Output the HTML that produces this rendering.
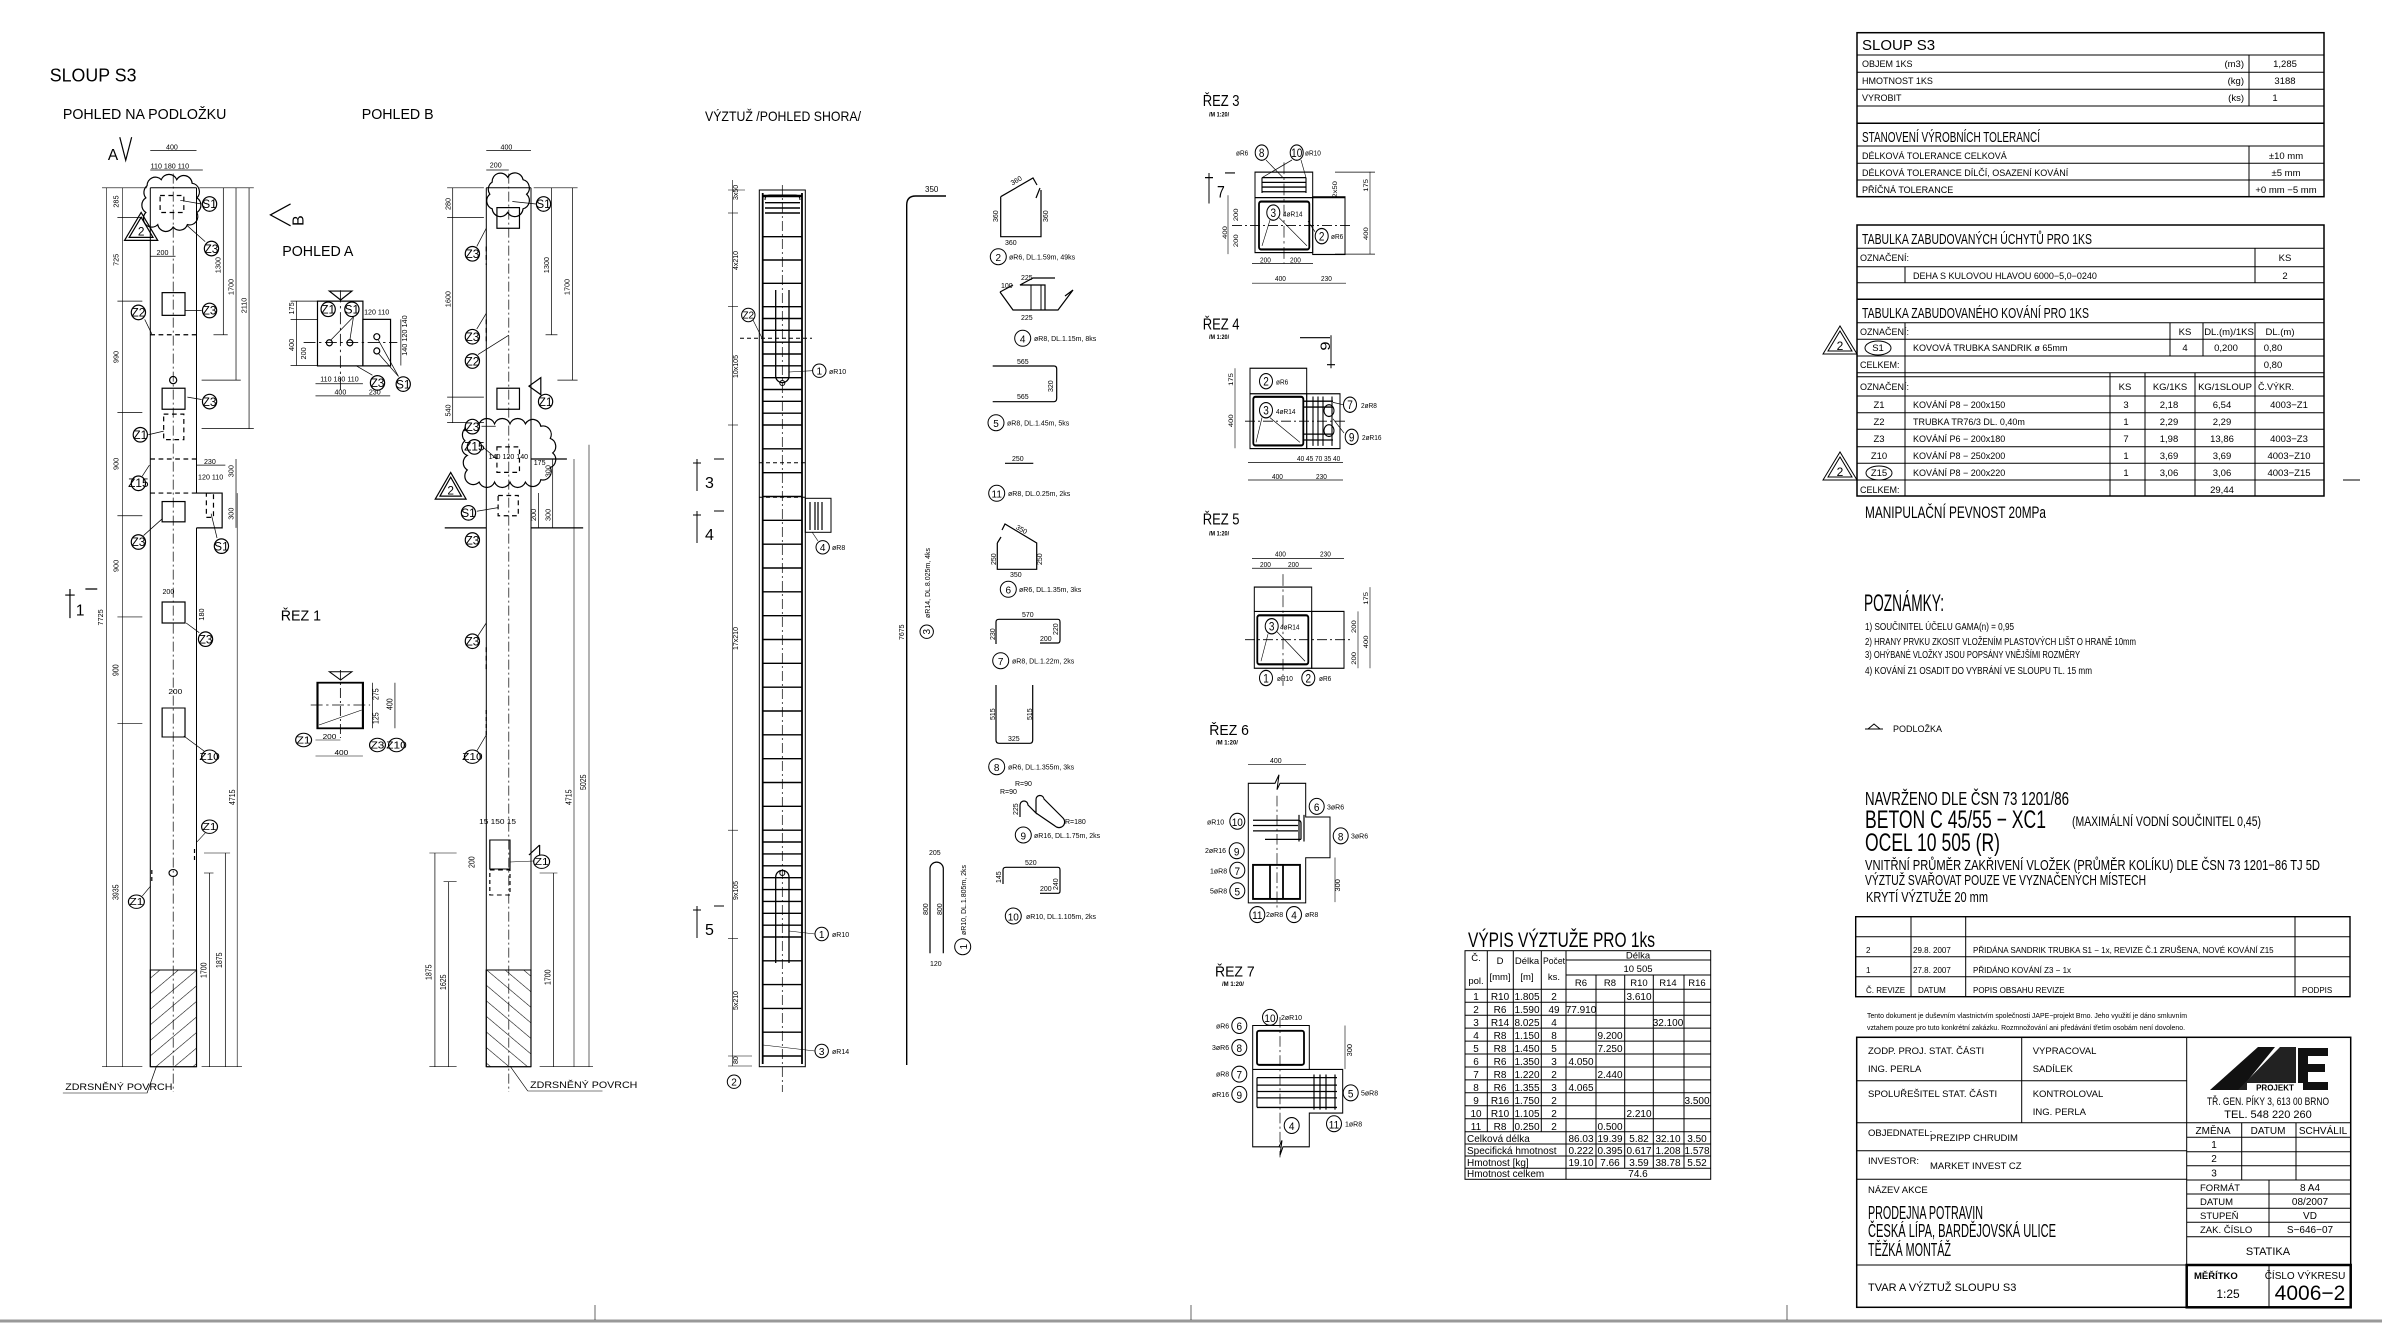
<!DOCTYPE html>
<html><head><meta charset="utf-8">
<style>
html,body{margin:0;padding:0;background:#fff;}
svg{display:block;}
text{font-family:"Liberation Sans Narrow","Liberation Sans","DejaVu Sans Condensed",sans-serif;fill:#000;}
.l{stroke:#000;stroke-width:1;fill:none;}
.t{stroke:#000;stroke-width:1.8;fill:none;}
.th{stroke:#000;stroke-width:0.6;fill:none;}
.d{stroke:#000;stroke-width:1;fill:none;stroke-dasharray:4 3;}
.c{stroke:#000;stroke-width:0.7;fill:none;stroke-dasharray:10 3 2 3;}
.tag circle{fill:#fff;stroke:#000;stroke-width:1;}
.tag text{font-size:10px;text-anchor:middle;}
.s7{font-size:7px;}
.s8{font-size:8px;}
.s9{font-size:9px;}
.s10{font-size:10px;}
.s11{font-size:11px;}
</style></head>
<body>
<svg width="2382" height="1324" viewBox="0 0 2382 1324" xmlns="http://www.w3.org/2000/svg">
<defs>
<pattern id="h1" patternUnits="userSpaceOnUse" width="11" height="11" patternTransform="rotate(45)"><line x1="0" y1="0" x2="0" y2="11" stroke="#000" stroke-width="1"/></pattern>
<pattern id="h2" patternUnits="userSpaceOnUse" width="11" height="11" patternTransform="rotate(-45)"><line x1="0" y1="0" x2="0" y2="11" stroke="#000" stroke-width="1"/></pattern>
</defs>

<line class="l" x1="150.3" y1="187.8" x2="150.3" y2="1066.7"/>
<line class="l" x1="196.5" y1="187.8" x2="196.5" y2="493.1"/>
<line class="l" x1="196.5" y1="527.9" x2="196.5" y2="1066.7"/>
<line class="l" x1="150.3" y1="187.8" x2="196.5" y2="187.8"/>
<line class="c" x1="173.2" y1="173.6" x2="173.2" y2="1092"/>
<line class="th" x1="106.7" y1="187.8" x2="106.7" y2="1066.7"/>
<line class="th" x1="122.5" y1="187.8" x2="122.5" y2="1066.7"/>
<line class="th" x1="237.2" y1="493.1" x2="237.2" y2="1066.7"/>
<line class="l" x1="486.3" y1="187.8" x2="486.3" y2="1066.7"/>
<line class="l" x1="531" y1="187.8" x2="531" y2="1066.7"/>
<line class="l" x1="486.3" y1="187.8" x2="531" y2="187.8"/>
<line class="c" x1="508.8" y1="173.6" x2="508.8" y2="1092"/>
<line class="th" x1="574" y1="459" x2="574" y2="1066.7"/>
<line class="th" x1="589" y1="444.7" x2="589" y2="1066.7"/>

<g transform="matrix(1.186,0,0,1.2146,0,-8.584)">
<text x="42" y="74" font-size="15">SLOUP  S3</text>
<text x="53" y="105" font-size="12">POHLED  NA  PODLOŽKU</text>
<text x="305" y="105" font-size="12">POHLED  B</text>
<text x="91" y="139" font-size="13">A</text>
<path class="l" d="M101,120 L106,139 L111,120"/>
<path class="l" d="M165.7,413 H187.3 V441.7 H165.7"/>
<line class="d" x1="126.7" y1="385" x2="165.7" y2="385"/>
<line class="d" x1="126.7" y1="413" x2="165.7" y2="413"/>
<line class="d" x1="126.7" y1="282.7" x2="165.7" y2="282.7"/>
<rect class="l" x="136.7" y="248" width="19.3" height="18.7"/>
<rect class="l" x="136.7" y="326.7" width="19.3" height="17.3"/>
<rect class="d" x="138" y="348" width="17" height="21"/>
<rect class="l" x="136.7" y="420" width="19.3" height="16.7"/>
<rect class="l" x="136.7" y="502.7" width="19.3" height="17.3"/>
<rect class="d" x="174" y="413" width="6" height="20"/>
<circle class="l" cx="146" cy="320" r="3"/>
<path class="l" d="M124,160 a7,7 0 0 1 12,-5 a7,7 0 0 1 13,0 a7,7 0 0 1 13,3 a7,7 0 0 1 4,12 a7,7 0 0 1 0,12 a7,7 0 0 1 -8,10 a7,7 0 0 1 -12,2 a7,7 0 0 1 -13,-2 a7,7 0 0 1 -10,-10 a7,7 0 0 1 0,-12 a7,7 0 0 1 1,-10 z"/>
<rect class="d" x="135" y="168" width="20" height="14"/>
<polygon class="l" points="105,205 119,182 133,205"/><polygon class="l" points="109,202.5 119,186 129,202.5"/>
<text x="119" y="201" font-size="10" text-anchor="middle">2</text>
<g class="th"><line x1="86" y1="161.7" x2="124" y2="161.7"/><line x1="99" y1="186" x2="120" y2="186"/><line x1="99" y1="255" x2="120" y2="255"/><line x1="99" y1="346.7" x2="120" y2="346.7"/><line x1="99" y1="431.7" x2="120" y2="431.7"/><line x1="99" y1="515" x2="120" y2="515"/></g>
<g font-size="6">
<text transform="rotate(-90 100 178)" x="100" y="178">285</text>
<text transform="rotate(-90 100 226)" x="100" y="226">725</text>
<text transform="rotate(-90 100 306)" x="100" y="306">990</text>
<text transform="rotate(-90 100 394)" x="100" y="394">900</text>
<text transform="rotate(-90 100 478)" x="100" y="478">900</text>
<text transform="rotate(-90 87 522)" x="87" y="522">7725</text>
</g>
<line class="th" x1="188.3" y1="161.7" x2="188.3" y2="282.7"/>
<line class="th" x1="199" y1="161.7" x2="199" y2="320"/>
<line class="th" x1="210" y1="161.7" x2="210" y2="360"/>
<g class="th"><line x1="168" y1="161.7" x2="214" y2="161.7"/><line x1="180" y1="282.7" x2="192" y2="282.7"/><line x1="170" y1="320" x2="203" y2="320"/><line x1="170" y1="360" x2="214" y2="360"/></g>
<g font-size="6">
<text transform="rotate(-90 186 232)" x="186" y="232">1300</text>
<text transform="rotate(-90 197 250)" x="197" y="250">1700</text>
<text transform="rotate(-90 208 265)" x="208" y="265">2110</text>
<text transform="rotate(-90 197 400)" x="197" y="400">300</text>
<text transform="rotate(-90 197 435)" x="197" y="435">300</text>
</g>
<line class="th" x1="199" y1="385" x2="199" y2="441.7"/>
<line class="th" x1="126.7" y1="131" x2="165.7" y2="131"/><text x="140" y="130" font-size="6">400</text>
<line class="th" x1="126.7" y1="147" x2="171" y2="147"/><text x="127" y="146" font-size="6">110 180 110</text>
<line class="th" x1="126.7" y1="218" x2="148" y2="218"/><text x="132" y="217" font-size="6">200</text>
<line class="th" x1="165.7" y1="390" x2="190" y2="390"/><text x="172" y="389" font-size="6">230</text>
<text x="167" y="402" font-size="6">120 110</text>
<text x="137" y="496" font-size="6">200</text><text x="168" y="514" font-size="6" transform="rotate(-90 172 514)">180</text>
<g class="tag">
<circle cx="176.7" cy="175" r="6"/><text x="176.7" y="178.5" font-size="9">S1</text>
<circle cx="178.3" cy="211.7" r="6"/><text x="178.3" y="215.2" font-size="9">Z3</text>
<circle cx="116.7" cy="264.3" r="6"/><text x="116.7" y="267.8" font-size="9">Z2</text>
<circle cx="176.7" cy="262.7" r="6"/><text x="176.7" y="266.2" font-size="9">Z3</text>
<circle cx="176.7" cy="337.7" r="6"/><text x="176.7" y="341.2" font-size="9">Z3</text>
<circle cx="118.3" cy="365" r="6"/><text x="118.3" y="368.5" font-size="9">Z1</text>
<circle cx="116.7" cy="405" r="6"/><text x="116.7" y="408" font-size="7.5">Z15</text>
<circle cx="116.7" cy="453.3" r="6"/><text x="116.7" y="456.8" font-size="9">Z3</text>
<circle cx="186.7" cy="456.7" r="6"/><text x="186.7" y="460.2" font-size="9">S1</text>
<circle cx="173.3" cy="533.3" r="6"/><text x="173.3" y="536.8" font-size="9">Z3</text>
</g>
<g class="th"><line x1="170" y1="175" x2="152" y2="172"/><line x1="173" y1="206" x2="158" y2="193"/><line x1="122" y1="270" x2="128" y2="282"/><line x1="170" y1="262.7" x2="156" y2="262.7"/><line x1="170" y1="336" x2="158" y2="334"/><line x1="125" y1="365" x2="138" y2="362"/><line x1="120" y1="399" x2="126" y2="390"/><line x1="121" y1="448" x2="137" y2="434"/><line x1="183" y1="450" x2="178" y2="430"/><line x1="168" y1="528" x2="157" y2="520"/></g>
<path class="l" d="M59,492 v24 M55,497 h8 M72,492 h10"/><text x="64" y="514" font-size="13">1</text>

<rect class="l" x="419" y="178" width="19" height="17"/>
<rect class="l" x="419" y="326.7" width="19" height="17.3"/>
<rect class="d" x="419" y="375" width="19" height="21"/>
<rect class="d" x="420" y="415" width="17" height="16.7"/>
<line class="l" x1="447.7" y1="441.7" x2="491.7" y2="441.7"/>
<line class="l" x1="447.7" y1="385" x2="478" y2="385"/>
<line class="l" x1="410" y1="441.7" x2="375" y2="441.7"/>
<path class="d" d="M410,210 v15 M410,270 v20 M410,540 v20"/>
<path class="l" d="M392,362 a7,7 0 0 1 12,-6 a7,7 0 0 1 13,0 a7,7 0 0 1 13,0 a7,7 0 0 1 13,0 a7,7 0 0 1 13,2 a7,7 0 0 1 8,10 a7,7 0 0 1 2,12 a7,7 0 0 1 -2,12 a7,7 0 0 1 -8,10 a7,7 0 0 1 -13,2 a7,7 0 0 1 -13,0 a7,7 0 0 1 -13,0 a7,7 0 0 1 -13,0 a7,7 0 0 1 -10,-10 a7,7 0 0 1 0,-12 a7,7 0 0 1 -2,-12 a7,7 0 0 1 0,-10 z"/>
<path class="l" d="M415,157 a7,7 0 0 1 13,-4 a7,7 0 0 1 13,2 a7,7 0 0 1 3,12 a7,7 0 0 1 -3,12 a7,7 0 0 1 -13,3 a7,7 0 0 1 -13,-3 a7,7 0 0 1 -2,-12 a7,7 0 0 1 2,-10 z"/>
<polygon class="l" points="367,418 380,396 393,418"/><polygon class="l" points="371,415.5 380,400 389,415.5"/>
<text x="380" y="414" font-size="10" text-anchor="middle">2</text>
<path class="l" d="M456,318 L446,325 L456,332 z"/>
<g class="th"><line x1="381.7" y1="161.7" x2="381.7" y2="355"/><line x1="377" y1="161.7" x2="408" y2="161.7"/><line x1="377" y1="186" x2="408" y2="186"/><line x1="377" y1="334" x2="408" y2="334"/><line x1="377" y1="355" x2="408" y2="355"/>
<line x1="465" y1="161.7" x2="465" y2="282.7"/><line x1="482.7" y1="161.7" x2="482.7" y2="320"/><line x1="450" y1="161.7" x2="487" y2="161.7"/><line x1="460" y1="282.7" x2="470" y2="282.7"/><line x1="470" y1="320" x2="487" y2="320"/>
<line x1="410" y1="131" x2="447.7" y2="131"/><line x1="410" y1="147" x2="429" y2="147"/>
<line x1="466" y1="385" x2="466" y2="441.7"/><line x1="454" y1="413" x2="454" y2="441.7"/>
</g>
<g font-size="6">
<text x="422" y="130">400</text><text x="413" y="145">200</text>
<text transform="rotate(-90 380 180)" x="380" y="180">280</text>
<text transform="rotate(-90 380 260)" x="380" y="260">1600</text>
<text transform="rotate(-90 380 350)" x="380" y="350">540</text>
<text transform="rotate(-90 463 232)" x="463" y="232">1300</text>
<text transform="rotate(-90 480 250)" x="480" y="250">1700</text>
<text transform="rotate(-90 464 400)" x="464" y="400">300</text>
<text transform="rotate(-90 464 436)" x="464" y="436">300</text>
<text transform="rotate(-90 452 436)" x="452" y="436">200</text>
<text x="412" y="385">140 120 140</text><text x="450" y="390">175</text>
</g>
<g class="tag">
<circle cx="458.3" cy="175" r="6"/><text x="458.3" y="178.5" font-size="9">S1</text>
<circle cx="398.3" cy="216" r="6"/><text x="398.3" y="219.5" font-size="9">Z3</text>
<circle cx="398.3" cy="284.3" r="6"/><text x="398.3" y="287.8" font-size="9">Z3</text>
<circle cx="398.3" cy="304.3" r="6"/><text x="398.3" y="307.8" font-size="9">Z2</text>
<circle cx="460" cy="337.7" r="6"/><text x="460" y="341.2" font-size="9">Z1</text>
<circle cx="398.3" cy="358.3" r="6"/><text x="398.3" y="361.8" font-size="9">Z3</text>
<circle cx="400" cy="375" r="6"/><text x="400" y="378" font-size="7.5">Z15</text>
<circle cx="395" cy="429.3" r="6"/><text x="395" y="432.8" font-size="9">S1</text>
<circle cx="398.3" cy="451.7" r="6"/><text x="398.3" y="455.2" font-size="9">Z3</text>
<circle cx="398.3" cy="535" r="6"/><text x="398.3" y="538.5" font-size="9">Z3</text>
</g>
<g class="th"><line x1="452" y1="175" x2="432" y2="173"/><line x1="402" y1="210" x2="410" y2="195"/><line x1="402" y1="278" x2="410" y2="265"/><line x1="403" y1="299" x2="429" y2="283"/><line x1="406" y1="358" x2="418" y2="358"/><line x1="407" y1="375" x2="419" y2="385"/><line x1="402" y1="428" x2="420" y2="425"/><line x1="402" y1="532" x2="410" y2="520"/></g>

<text x="232" y="201" font-size="13" transform="rotate(-90 240 185)">B</text>
<path class="l" d="M245,175 L228,184 L245,193"/>
<text x="238" y="218" font-size="12">POHLED  A</text>
<rect class="l" x="267.7" y="255" width="38.3" height="53.3"/>
<rect class="l" x="306" y="270" width="23.3" height="38.3"/>
<path class="l" d="M277.7,246.7 H296.7 L287.2,254 z"/>
<line class="c" x1="287" y1="246" x2="287" y2="330"/><line class="c" x1="256" y1="289" x2="335" y2="289"/>
<circle class="l" cx="277.7" cy="289.3" r="2.5"/><circle class="l" cx="295" cy="289.3" r="2.5"/><circle class="l" cx="317.7" cy="284.3" r="2.5"/><circle class="l" cx="317.7" cy="296" r="2.5"/>
<g class="th"><line x1="266" y1="323" x2="306" y2="323"/><line x1="266" y1="333" x2="329" y2="333"/><line x1="250" y1="255" x2="250" y2="308"/><line x1="245" y1="255" x2="268" y2="255"/><line x1="245" y1="270" x2="268" y2="270"/><line x1="245" y1="308" x2="268" y2="308"/><line x1="338" y1="270" x2="338" y2="308"/></g>
<g font-size="6"><text x="270" y="321">110 180 110</text><text x="282" y="332">400</text><text x="311" y="332">230</text><text x="307" y="266">120 110</text>
<text transform="rotate(-90 248 266)" x="248" y="266">175</text><text transform="rotate(-90 248 296)" x="248" y="296">400</text><text transform="rotate(-90 258 303)" x="258" y="303">200</text><text transform="rotate(-90 343 300)" x="343" y="300">140 120 140</text></g>
<g class="tag">
<circle cx="276.7" cy="261.7" r="6"/><text x="276.7" y="265.2" font-size="9">Z1</text>
<circle cx="296.7" cy="261.7" r="6"/><text x="296.7" y="265.2" font-size="9">S1</text>
<circle cx="318.3" cy="322.3" r="6"/><text x="318.3" y="325.8" font-size="9">Z3</text>
<circle cx="340" cy="323.3" r="6"/><text x="340" y="326.8" font-size="9">S1</text>
</g>
<g class="th"><line x1="298" y1="268" x2="279" y2="287"/><line x1="298" y1="268" x2="295" y2="287"/><line x1="314" y1="316" x2="300" y2="308"/><line x1="336" y1="317" x2="319" y2="287"/><line x1="336" y1="317" x2="319" y2="298"/></g>
<text x="236.7" y="518" font-size="12">ŘEZ  1</text>
</g>

<g transform="matrix(1.186,0,0,1,0,0)">
<line class="l" x1="126.7" y1="1066.7" x2="165.7" y2="1066.7"/>
<rect x="126.7" y="970" width="39" height="96.7" fill="url(#h1)" stroke="#000"/>
<rect class="l" x="136.7" y="708" width="19.3" height="29"/>
<circle class="l" cx="146" cy="873" r="3.5"/>
<path class="d" d="M164,860 v-12 M128,870 v14"/>
<g class="th"><line x1="99" y1="723.3" x2="120" y2="723.3"/><line x1="86" y1="1066.7" x2="120" y2="1066.7"/>
<line x1="176.7" y1="873" x2="176.7" y2="1066.7"/><line x1="190" y1="853" x2="190" y2="1066.7"/>
<line x1="172" y1="873" x2="180" y2="873"/><line x1="172" y1="853" x2="194" y2="853"/><line x1="170" y1="1066.7" x2="204" y2="1066.7"/></g>
<g font-size="7">
<text transform="rotate(-90 100 676)" x="100" y="676">900</text>
<text transform="rotate(-90 100 900)" x="100" y="900">3935</text>
<text transform="rotate(-90 174 978)" x="174" y="978">1700</text>
<text transform="rotate(-90 187 968)" x="187" y="968">1875</text>
<text transform="rotate(-90 198 805)" x="198" y="805">4715</text>
<text x="142" y="694">200</text>
</g>
<text x="55" y="1090" font-size="9">ZDRSNĚNÝ POVRCH</text>
<path class="th" d="M53,1093 H124 L132,1066"/>
<g class="tag">
<circle cx="176.7" cy="756.7" r="6.7"/><text x="176.7" y="760.2" font-size="9">Z10</text>
<circle cx="176.7" cy="826.7" r="6.7"/><text x="176.7" y="830.2">Z1</text>
<circle cx="115" cy="901.7" r="6.7"/><text x="115" y="905.2">Z1</text>
</g>
<g class="th"><line x1="172" y1="751" x2="155" y2="736"/><line x1="173" y1="833" x2="166" y2="842"/><line x1="120" y1="896" x2="127" y2="886"/></g>
<line class="l" x1="410" y1="1066.7" x2="447.7" y2="1066.7"/>
<rect x="410" y="970" width="37.7" height="96.7" fill="url(#h2)" stroke="#000"/>
<rect class="l" x="413" y="840" width="17" height="29"/><rect class="d" x="413" y="870" width="17" height="25"/>
<path class="d" d="M410,710 v25"/>
<path class="l" d="M455,845 L446,855 M455,845 v20"/>
<g class="th">
<line x1="366.7" y1="853" x2="366.7" y2="1066.7"/><line x1="378.3" y1="881.7" x2="378.3" y2="1066.7"/><line x1="362" y1="853" x2="385" y2="853"/><line x1="374" y1="881.7" x2="385" y2="881.7"/><line x1="362" y1="1066.7" x2="385" y2="1066.7"/>
<line x1="466.7" y1="873" x2="466.7" y2="1066.7"/><line x1="455" y1="873" x2="470" y2="873"/><line x1="455" y1="1066.7" x2="500" y2="1066.7"/>
</g>
<g font-size="7">
<text transform="rotate(-90 364 980)" x="364" y="980">1875</text>
<text transform="rotate(-90 376 990)" x="376" y="990">1625</text>
<text transform="rotate(-90 464 985)" x="464" y="985">1700</text>
<text transform="rotate(-90 482 805)" x="482" y="805">4715</text>
<text transform="rotate(-90 494 790)" x="494" y="790">5025</text>
<text x="404" y="824">15  150  15</text>
<text transform="rotate(-90 400 868)" x="400" y="868">200</text>
</g>
<text x="447" y="1088" font-size="9">ZDRSNĚNÝ POVRCH</text>
<path class="th" d="M445,1091 H508 M445,1091 L430,1066"/>
<g class="tag">
<circle cx="398.3" cy="756.7" r="6.7"/><text x="398.3" y="760.2" font-size="9">Z10</text>
<circle cx="456.7" cy="861.7" r="6.7"/><text x="456.7" y="865.2">Z1</text>
</g>
<g class="th"><line x1="402" y1="751" x2="410" y2="735"/><line x1="450" y1="861" x2="430" y2="862"/></g>
<rect class="t" x="267.7" y="682.7" width="38.3" height="45.6"/>
<path class="l" d="M277.7,671.7 H296.7 L287.2,680 z"/>
<line class="c" x1="287" y1="670" x2="287" y2="738"/><line class="c" x1="262" y1="705" x2="312" y2="705"/>
<line class="th" x1="269" y1="725" x2="305" y2="710"/>
<g class="th"><line x1="266" y1="740" x2="287" y2="740"/><line x1="266" y1="756" x2="306" y2="756"/><line x1="314" y1="682.7" x2="314" y2="728.3"/><line x1="333" y1="682.7" x2="333" y2="728.3"/></g>
<g font-size="7"><text x="272" y="739">200</text><text x="282" y="755">400</text>
<text transform="rotate(-90 319 700)" x="319" y="700">275</text><text transform="rotate(-90 319 724)" x="319" y="724">125</text><text transform="rotate(-90 331 710)" x="331" y="710">400</text></g>
<g class="tag">
<circle cx="256" cy="740" r="6.7"/><text x="256" y="743.5">Z1</text>
<circle cx="318.3" cy="745" r="6.7"/><text x="318.3" y="748.5">Z3</text>
<circle cx="334.3" cy="745" r="6.7"/><text x="334.3" y="748.5" font-size="9">Z10</text>
</g>
</g>

<text x="705" y="121" font-size="14" textLength="156" lengthAdjust="spacingAndGlyphs">VÝZTUŽ  /POHLED SHORA/</text>
<rect class="l" x="759.3" y="190" width="46" height="876.7"/>
<line class="t" x1="762.7" y1="193" x2="762.7" y2="1064"/>
<line class="t" x1="802" y1="193" x2="802" y2="1064"/>
<line class="c" x1="782.3" y1="185" x2="782.3" y2="1092"/>
<g class="l" style="stroke-width:1.4">
<line x1="762.7" y1="196" x2="802" y2="196" style="stroke-width:2.5"/>
<line x1="765" y1="202.7" x2="800" y2="202.7"/><line x1="765" y1="208" x2="800" y2="208"/><line x1="765" y1="213" x2="800" y2="213"/>
<line x1="762.7" y1="236.7" x2="802" y2="236.7"/><line x1="762.7" y1="260" x2="802" y2="260"/><line x1="762.7" y1="283.3" x2="802" y2="283.3"/><line x1="762.7" y1="306.7" x2="802" y2="306.7"/>
<line x1="762.7" y1="318.5" x2="802" y2="318.5"/><line x1="762.7" y1="330.3" x2="802" y2="330.3"/><line x1="762.7" y1="342.2" x2="802" y2="342.2"/><line x1="762.7" y1="354" x2="802" y2="354"/><line x1="762.7" y1="365.8" x2="802" y2="365.8"/><line x1="762.7" y1="377.7" x2="802" y2="377.7"/><line x1="762.7" y1="389.5" x2="802" y2="389.5"/><line x1="762.7" y1="401.3" x2="802" y2="401.3"/><line x1="762.7" y1="413.2" x2="802" y2="413.2"/><line x1="762.7" y1="425" x2="802" y2="425"/>
<line x1="762.7" y1="448.8" x2="802" y2="448.8"/><line x1="762.7" y1="472.7" x2="802" y2="472.7"/><line x1="762.7" y1="496.5" x2="802" y2="496.5"/><line x1="762.7" y1="520.3" x2="802" y2="520.3"/><line x1="762.7" y1="544.2" x2="802" y2="544.2"/><line x1="762.7" y1="568" x2="802" y2="568"/><line x1="762.7" y1="591.8" x2="802" y2="591.8"/><line x1="762.7" y1="615.7" x2="802" y2="615.7"/><line x1="762.7" y1="639.5" x2="802" y2="639.5"/><line x1="762.7" y1="663.3" x2="802" y2="663.3"/><line x1="762.7" y1="687.2" x2="802" y2="687.2"/><line x1="762.7" y1="711" x2="802" y2="711"/><line x1="762.7" y1="734.8" x2="802" y2="734.8"/><line x1="762.7" y1="758.7" x2="802" y2="758.7"/><line x1="762.7" y1="782.5" x2="802" y2="782.5"/><line x1="762.7" y1="806.3" x2="802" y2="806.3"/><line x1="762.7" y1="830.2" x2="802" y2="830.2"/>
<line x1="762.7" y1="842" x2="802" y2="842"/><line x1="762.7" y1="853.9" x2="802" y2="853.9"/><line x1="762.7" y1="865.8" x2="802" y2="865.8"/><line x1="762.7" y1="877.7" x2="802" y2="877.7"/><line x1="762.7" y1="889.6" x2="802" y2="889.6"/><line x1="762.7" y1="901.4" x2="802" y2="901.4"/><line x1="762.7" y1="913.3" x2="802" y2="913.3"/><line x1="762.7" y1="925.2" x2="802" y2="925.2"/><line x1="762.7" y1="937" x2="802" y2="937"/>
<line x1="762.7" y1="960.8" x2="802" y2="960.8"/><line x1="762.7" y1="984.6" x2="802" y2="984.6"/><line x1="762.7" y1="1008.4" x2="802" y2="1008.4"/><line x1="762.7" y1="1032.2" x2="802" y2="1032.2"/><line x1="762.7" y1="1056" x2="802" y2="1056"/>
</g>
<path class="t" d="M765,200 q0,-5 5,-5 h25 q5,0 5,5" style="stroke-width:1"/>
<path class="t" d="M775.7,290 V376 a6.6,6.6 0 0 0 13.3,0 V290" style="stroke-width:1.3"/>
<path class="t" d="M775.7,963 V877 a6.6,6.6 0 0 1 13.3,0 V963" style="stroke-width:1.3"/>
<circle class="l" cx="782.3" cy="383" r="2.5"/><circle class="l" cx="782.3" cy="873" r="2.5"/>
<line class="d" x1="740" y1="338.3" x2="812" y2="338.3"/>
<line class="d" x1="759" y1="462.7" x2="805" y2="462.7"/>
<line class="d" x1="759" y1="497.3" x2="805" y2="497.3"/>
<rect class="l" x="805.3" y="498.3" width="25.7" height="34"/>
<path class="t" d="M810,502 v28 M815,502 v28 M818,502 v28 M822,502 v28" style="stroke-width:1.2"/>
<line class="th" x1="732.7" y1="180" x2="732.7" y2="1066"/>
<g class="th"><line x1="728" y1="190" x2="745" y2="190"/><line x1="728" y1="213" x2="738" y2="213"/><line x1="728" y1="306.7" x2="738" y2="306.7"/><line x1="728" y1="425" x2="738" y2="425"/><line x1="728" y1="830.2" x2="738" y2="830.2"/><line x1="728" y1="938.3" x2="738" y2="938.3"/><line x1="728" y1="1056" x2="752" y2="1056"/><line x1="728" y1="1066" x2="752" y2="1066"/></g>
<g class="s7"><text transform="rotate(-90 738 200)" x="738" y="200">3x50</text><text transform="rotate(-90 738 270)" x="738" y="270">4x210</text><text transform="rotate(-90 738 378)" x="738" y="378">10x105</text><text transform="rotate(-90 738 650)" x="738" y="650">17x210</text><text transform="rotate(-90 738 900)" x="738" y="900">9x105</text><text transform="rotate(-90 738 1010)" x="738" y="1010">5x210</text><text transform="rotate(-90 738 1064)" x="738" y="1064">80</text></g>
<g class="tag" style="font-size:12px">
<circle cx="748.3" cy="315" r="6.7"/><text x="748.3" y="318.5">Z2</text>
<circle cx="819.3" cy="370.7" r="6.7"/><text x="819.3" y="374.5">1</text>
<circle cx="822.7" cy="547.3" r="6.7"/><text x="822.7" y="551">4</text>
<circle cx="821.7" cy="934" r="6.7"/><text x="821.7" y="938">1</text>
<circle cx="821.7" cy="1051" r="6.7"/><text x="821.7" y="1055">3</text>
<circle cx="734" cy="1081.7" r="6.7"/><text x="734" y="1085.5">2</text>
</g>
<g class="th"><line x1="753" y1="320" x2="762" y2="338"/><line x1="812.5" y1="370.7" x2="789" y2="372"/><line x1="818" y1="541" x2="812" y2="532"/><line x1="815" y1="934" x2="789" y2="931"/><line x1="815" y1="1051" x2="763" y2="1045"/></g>
<g class="s7"><text x="829" y="374">øR10</text><text x="832" y="550">øR8</text><text x="832" y="937">øR10</text><text x="832" y="1054">øR14</text></g>
<path class="l" d="M697,459 v32 M693,463 h8 M714,459 h10"/><text x="705" y="488" font-size="16">3</text>
<path class="l" d="M697,511 v32 M693,515 h8 M714,511 h10"/><text x="705" y="540" font-size="16">4</text>
<path class="l" d="M697,906 v32 M693,910 h8 M714,906 h10"/><text x="705" y="935" font-size="16">5</text>

<path class="t" d="M906.7,1065 V205 q0,-9 9,-9 H946" style="stroke-width:1.4"/>
<text x="925" y="192" class="s8">350</text>
<text transform="rotate(-90 904 640)" x="904" y="640" class="s7">7675</text>
<g class="tag" style="font-size:12px"><circle cx="926.7" cy="631.7" r="6.7"/><text transform="rotate(-90 930 631.7)" x="930" y="631.7">3</text></g>
<text transform="rotate(-90 930 618)" x="930" y="618" class="s7">øR14, DL.8.025m, 4ks</text>

<path class="t" d="M1000.7,196.7 V236.7 H1041 V196.7 M1000.7,196.7 L1033,178 L1037,185 M1041,196.7 L1041,190 M1036,198 L1040,188" style="stroke-width:1.2"/>
<g class="s7"><text x="1005" y="245">360</text><text x="1012" y="184" transform="rotate(-30 1015 184)">360</text><text transform="rotate(-90 998 222)" x="998" y="222">360</text><text transform="rotate(-90 1048 222)" x="1048" y="222">360</text></g>
<path class="t" d="M1000,292 L1013,285 M1000,292 L1013,310 H1045 V285 H1020 L1033,278 H1055 M1045,310 H1058 L1073,290 L1065,296" style="stroke-width:1.2"/>
<rect class="l" x="1031" y="285" width="10" height="25"/>
<g class="s7"><text x="1021" y="280">225</text><text x="1021" y="320">225</text><text x="1001" y="288">100</text></g>
<path class="t" d="M992.7,366 H1054 q2.7,0 2.7,3 V398 q0,3.7 -2.7,3.7 H992.7" style="stroke-width:1.2"/>
<g class="s7"><text x="1017" y="364">565</text><text x="1017" y="399">565</text><text transform="rotate(-90 1053 392)" x="1053" y="392">320</text></g>
<line class="t" x1="1005" y1="463.3" x2="1033.3" y2="463.3" style="stroke-width:1.2"/><text x="1012" y="461" class="s7">250</text>
<path class="t" d="M997.3,543 V569.3 H1036.7 V543 L1005,524 L1002,530 M997.3,543 L1001,537" style="stroke-width:1.2"/>
<g class="s7"><text x="1010" y="577">350</text><text transform="rotate(-90 996 565)" x="996" y="565">250</text><text transform="rotate(-90 1042 565)" x="1042" y="565">250</text><text x="1015" y="530" transform="rotate(30 1018 530)">350</text></g>
<path class="t" d="M996,644 V622 q0,-2.7 3,-2.7 H1058 q2,0 2,2.7 V640 q0,3 -2,3 H1040" style="stroke-width:1.2"/>
<g class="s7"><text x="1022" y="617">570</text><text x="1040" y="641">200</text><text transform="rotate(-90 995 640)" x="995" y="640">230</text><text transform="rotate(-90 1058 635)" x="1058" y="635">220</text></g>
<path class="t" d="M996,685 V740 q0,3.3 3,3.3 H1030 q2.7,0 2.7,-3.3 V685" style="stroke-width:1.2"/>
<g class="s7"><text x="1008" y="741">325</text><text transform="rotate(-90 995 720)" x="995" y="720">515</text><text transform="rotate(-90 1032 720)" x="1032" y="720">515</text></g>
<path class="t" d="M1020,817 V805 a4,4 0 0 1 8,0 L1036,813 V800 a4,4 0 0 1 8,-1 L1063,818 a5,5 0 0 1 -8,8 L1036,813" style="stroke-width:1.2"/>
<g class="s7"><text x="1000" y="794">R=90</text><text x="1015" y="786">R=90</text><text x="1065" y="824">R=180</text><text transform="rotate(-90 1018 815)" x="1018" y="815">225</text></g>
<path class="t" d="M1003,884 V870 q0,-2.7 3,-2.7 H1058 q2,0 2,2.7 V891 q0,2.3 -2,2.3 H1040" style="stroke-width:1.2"/>
<g class="s7"><text x="1025" y="865">520</text><text x="1040" y="891">200</text><text transform="rotate(-90 1001 883)" x="1001" y="883">145</text><text transform="rotate(-90 1058 890)" x="1058" y="890">240</text></g>
<path class="t" d="M930,953.3 V868 a6.7,6.7 0 0 1 13.3,0 V953.3" style="stroke-width:1.2"/>
<g class="s7"><text x="929" y="855">205</text><text transform="rotate(-90 928 915)" x="928" y="915">800</text><text transform="rotate(-90 942 915)" x="942" y="915">800</text><text x="930" y="966">120</text></g>
<g class="tag" style="font-size:12px">
<circle cx="998.3" cy="256.7" r="8"/><text x="998.3" y="261" font-size="12">2</text>
<circle cx="1022.7" cy="338.3" r="8"/><text x="1022.7" y="342.5" font-size="12">4</text>
<circle cx="996" cy="422.7" r="8"/><text x="996" y="427" font-size="12">5</text>
<circle cx="996.7" cy="493.3" r="8"/><text x="996.7" y="497.5" font-size="12">11</text>
<circle cx="1008.3" cy="589.3" r="8"/><text x="1008.3" y="593.5" font-size="12">6</text>
<circle cx="1000.7" cy="660.7" r="8"/><text x="1000.7" y="665" font-size="12">7</text>
<circle cx="996.7" cy="766.7" r="8"/><text x="996.7" y="771" font-size="12">8</text>
<circle cx="1023.3" cy="835" r="8"/><text x="1023.3" y="839.3" font-size="12">9</text>
<circle cx="1013.3" cy="916" r="8"/><text x="1013.3" y="920.3" font-size="12">10</text>
<circle cx="962.7" cy="946.7" r="8"/><text transform="rotate(-90 967 946.7)" x="967" y="946.7" font-size="12">1</text>
</g>
<g class="s7">
<text x="1009" y="259.5">øR6,  DL.1.59m,  49ks</text>
<text x="1034" y="341">øR8,  DL.1.15m,  8ks</text>
<text x="1007" y="425.5">øR8,  DL.1.45m,  5ks</text>
<text x="1008" y="496">øR8,  DL.0.25m,  2ks</text>
<text x="1019" y="592">øR6,  DL.1.35m,  3ks</text>
<text x="1012" y="663.5">øR8,  DL.1.22m,  2ks</text>
<text x="1008" y="769.5">øR6,  DL.1.355m,  3ks</text>
<text x="1034" y="838">øR16,  DL.1.75m,  2ks</text>
<text x="1026" y="919">øR10,  DL.1.105m,  2ks</text>
<text transform="rotate(-90 966 935)" x="966" y="935">øR10,  DL.1.805m,  2ks</text>
</g>

<g transform="matrix(1,0,0,1.1765,0,-14.12)">
<g font-size="13"><text x="1202.7" y="102">ŘEZ  3</text><text x="1202.7" y="292">ŘEZ  4</text><text x="1202.7" y="458">ŘEZ  5</text></g>
<g font-size="5.5" font-weight="bold"><text x="1209" y="111">/M 1:20/</text><text x="1209" y="300">/M 1:20/</text><text x="1209" y="467">/M 1:20/</text></g>
<rect class="l" x="1255" y="158.3" width="57.7" height="68.4"/>
<rect class="l" x="1312.7" y="179.3" width="32.3" height="49"/>
<line class="l" x1="1255" y1="180" x2="1345" y2="180"/>
<rect class="t" x="1259" y="183.3" width="50.3" height="40.7" rx="2"/>
<path class="t" d="M1262,163 h44 M1262,167 h44 M1262,171 h44 M1262,175 h44 M1262,163 v13 M1306,163 v13" style="stroke-width:1.1"/>
<line class="c" x1="1284" y1="150" x2="1284" y2="236"/><line class="c" x1="1232" y1="203.7" x2="1350" y2="203.7"/>
<g class="th"><line x1="1252" y1="236" x2="1313" y2="236"/><line x1="1252" y1="252.7" x2="1346" y2="252.7"/><line x1="1228" y1="178" x2="1228" y2="228"/><line x1="1370" y1="158" x2="1370" y2="228"/><line x1="1335" y1="158.3" x2="1375" y2="158.3"/><line x1="1335" y1="228" x2="1375" y2="228"/></g>
<g font-size="6.5"><text x="1260" y="235">200</text><text x="1290" y="235">200</text><text x="1275" y="251">400</text><text x="1321" y="251">230</text><text transform="rotate(-90 1227 215)" x="1227" y="215">400</text><text transform="rotate(-90 1238 200)" x="1238" y="200">200</text><text transform="rotate(-90 1238 222)" x="1238" y="222">200</text><text transform="rotate(-90 1368 216)" x="1368" y="216">400</text><text transform="rotate(-90 1368 175)" x="1368" y="175">175</text><text transform="rotate(-90 1337 180)" x="1337" y="180">2x50</text></g>
<path class="l" d="M1209,159 v26 M1205,163 h8 M1225,159 h10"/><text x="1217" y="180" font-size="14">7</text>
<g class="tag">
<circle cx="1261.7" cy="141.7" r="6.5"/><text x="1261.7" y="145.5" font-size="11">8</text>
<circle cx="1296.7" cy="141.7" r="6.5"/><text x="1296.7" y="145.5" font-size="10">10</text>
<circle cx="1273.3" cy="192.7" r="6.5"/><text x="1273.3" y="196.5" font-size="11">3</text>
<circle cx="1321.7" cy="212.7" r="6.5"/><text x="1321.7" y="216.5" font-size="11">2</text>
</g>
<g class="th"><line x1="1266" y1="148" x2="1283" y2="163"/><line x1="1292" y1="148" x2="1262" y2="163"/><line x1="1301" y1="148" x2="1306" y2="163"/><line x1="1270" y1="199" x2="1262" y2="221"/><line x1="1279" y1="197" x2="1307" y2="221"/><line x1="1315" y1="209" x2="1308" y2="200"/></g>
<g font-size="6.5"><text x="1236" y="144">øR6</text><text x="1305" y="144">øR10</text><text x="1283" y="196">4øR14</text><text x="1331" y="215">øR6</text></g>
<rect class="l" x="1250" y="325" width="56.7" height="68.3"/>
<rect class="l" x="1306.7" y="346.7" width="33.3" height="46.6"/>
<line class="l" x1="1250" y1="346.7" x2="1306.7" y2="346.7"/>
<rect class="t" x="1253.3" y="349.3" width="50" height="41.3" rx="2"/>
<path class="t" d="M1303,353 h30 M1303,358 h30 M1303,381 h30 M1303,386 h30 M1313,349 v42 M1318,349 v42 M1323,349 v42 M1332,349 v42" style="stroke-width:1.1"/>
<circle class="l" cx="1329" cy="361" r="5"/><circle class="l" cx="1329" cy="378" r="5"/>
<line class="c" x1="1245" y1="370" x2="1345" y2="370"/>
<g class="th"><line x1="1248" y1="405" x2="1343" y2="405"/><line x1="1248" y1="420" x2="1343" y2="420"/><line x1="1235" y1="325" x2="1235" y2="393"/></g>
<g font-size="6.5"><text x="1272" y="419">400</text><text x="1316" y="419">230</text><text x="1297" y="404">40  45 70  35  40</text><text transform="rotate(-90 1233 340)" x="1233" y="340">175</text><text transform="rotate(-90 1233 375)" x="1233" y="375">400</text></g>
<path class="l" d="M1331,297 v28 M1327,322 h8 M1300,299 h30"/><text x="1318" y="322" font-size="14" transform="rotate(-90 1318 310)">9</text>
<g class="tag">
<circle cx="1266" cy="336" r="6.5"/><text x="1266" y="339.8" font-size="11">2</text>
<circle cx="1266" cy="360.7" r="6.5"/><text x="1266" y="364.5" font-size="11">3</text>
<circle cx="1350" cy="356" r="6.5"/><text x="1350" y="359.8" font-size="11">7</text>
<circle cx="1351.7" cy="383.3" r="6.5"/><text x="1351.7" y="387.1" font-size="11">9</text>
</g>
<g font-size="6.5"><text x="1276" y="339">øR6</text><text x="1276" y="364">4øR14</text><text x="1361" y="359">2øR8</text><text x="1362" y="386">2øR16</text></g>
<g class="th"><line x1="1262" y1="367" x2="1256" y2="388"/><line x1="1270" y1="367" x2="1300" y2="388"/><line x1="1343" y1="356" x2="1333" y2="354"/><line x1="1344" y1="380" x2="1333" y2="368"/></g>
<rect class="l" x="1254.3" y="511" width="57.4" height="69"/>
<rect class="l" x="1311.7" y="531.7" width="32.3" height="48.3"/>
<line class="l" x1="1254.3" y1="531.7" x2="1311.7" y2="531.7"/>
<rect class="t" x="1257.3" y="535" width="51" height="41.7" rx="2"/>
<line class="c" x1="1283" y1="500" x2="1283" y2="595"/><line class="c" x1="1245" y1="555.7" x2="1350" y2="555.7"/>
<g class="th"><line x1="1252" y1="486.7" x2="1312" y2="486.7"/><line x1="1312" y1="486.7" x2="1344" y2="486.7"/><line x1="1252" y1="495" x2="1312" y2="495"/><line x1="1370" y1="511" x2="1370" y2="580"/><line x1="1358" y1="531.7" x2="1358" y2="580"/></g>
<g font-size="6.5"><text x="1275" y="485">400</text><text x="1320" y="485">230</text><text x="1260" y="494">200</text><text x="1288" y="494">200</text><text transform="rotate(-90 1368 526)" x="1368" y="526">175</text><text transform="rotate(-90 1368 563)" x="1368" y="563">400</text><text transform="rotate(-90 1356 550)" x="1356" y="550">200</text><text transform="rotate(-90 1356 577)" x="1356" y="577">200</text></g>
<g class="tag">
<circle cx="1271.7" cy="544.3" r="6.5"/><text x="1271.7" y="548.1" font-size="11">3</text>
<circle cx="1266" cy="588.3" r="6.5"/><text x="1266" y="592.1" font-size="11">1</text>
<circle cx="1308.3" cy="588.3" r="6.5"/><text x="1308.3" y="592.1" font-size="11">2</text>
</g>
<g font-size="6.5"><text x="1280" y="547">4øR14</text><text x="1277" y="591">øR10</text><text x="1319" y="591">øR6</text></g>
<g class="th"><line x1="1268" y1="551" x2="1261" y2="574"/><line x1="1277" y1="549" x2="1305" y2="574"/></g>
</g>

<g transform="matrix(1,0,0,1.0638,0,-44.66)">
<g font-size="14"><text x="1209.3" y="733">ŘEZ  6</text><text x="1215" y="960">ŘEZ  7</text></g>
<g font-size="6" font-weight="bold"><text x="1216" y="742">/M 1:20/</text><text x="1222" y="969">/M 1:20/</text></g>
<path class="l" d="M1248.3,778.3 H1275 l4,-8 l-2,14 l3,-6 H1305.7 V810 H1330 V848.3 H1305.7 V890.7 H1248.3 z"/>
<line class="c" x1="1277" y1="790" x2="1277" y2="895"/>
<path class="t" d="M1253,813 h45 q3,0 3,3 v15 M1253,818 h45 M1253,823 h45 M1265,831 h36 M1299,808 v25 M1304,808 v25" style="stroke-width:1.2"/>
<rect class="t" x="1253" y="855" width="47" height="32"/>
<line class="t" x1="1270" y1="855" x2="1270" y2="887"/><line class="t" x1="1283" y1="855" x2="1283" y2="887"/>
<line class="th" x1="1248" y1="760.7" x2="1306" y2="760.7"/><text x="1270" y="759" class="s7">400</text>
<line class="th" x1="1335" y1="848" x2="1335" y2="890"/><text transform="rotate(-90 1340 880)" x="1340" y="880" class="s7">300</text>
<g class="tag">
<circle cx="1237.3" cy="814" r="7.5"/><text x="1237.3" y="818.3" font-size="11">10</text>
<circle cx="1316.7" cy="800" r="7.5"/><text x="1316.7" y="804.3" font-size="12">6</text>
<circle cx="1340.7" cy="827.7" r="7.5"/><text x="1340.7" y="832" font-size="12">8</text>
<circle cx="1236.7" cy="841.7" r="7.5"/><text x="1236.7" y="846" font-size="12">9</text>
<circle cx="1237.3" cy="860" r="7.5"/><text x="1237.3" y="864.3" font-size="12">7</text>
<circle cx="1237.3" cy="879.3" r="7.5"/><text x="1237.3" y="883.6" font-size="12">5</text>
<circle cx="1257.3" cy="901.7" r="7.5"/><text x="1257.3" y="906" font-size="11">11</text>
<circle cx="1294" cy="901.7" r="7.5"/><text x="1294" y="906" font-size="12">4</text>
</g>
<g class="s7"><text x="1207" y="817">øR10</text><text x="1327" y="803">3øR6</text><text x="1351" y="830">3øR6</text><text x="1205" y="844">2øR16</text><text x="1210" y="863">1øR8</text><text x="1210" y="882">5øR8</text><text x="1266" y="904">2øR8</text><text x="1305" y="904">øR8</text></g>
<path class="l" d="M1252.7,1006 H1309.3 V1047.3 H1342.7 V1088.3 H1309.3 V1120 H1283 l-3,8 l2,-14 l-3,6 H1252.7 z"/>
<line class="l" x1="1252.7" y1="1047.3" x2="1309.3" y2="1047.3"/>
<line class="c" x1="1280" y1="998" x2="1280" y2="1130"/>
<rect class="t" x="1257" y="1011" width="47" height="32" rx="2"/>
<path class="t" d="M1257,1055 h80 M1257,1062 h80 M1257,1068 h80 M1257,1074 h80 M1257,1083 h80 M1257,1055 v28 M1314,1052 v33 M1320,1052 v33 M1326,1052 v33 M1335,1052 v33" style="stroke-width:1.2"/>
<line class="th" x1="1345" y1="1006" x2="1345" y2="1047"/><text transform="rotate(-90 1352 1035)" x="1352" y="1035" class="s7">300</text>
<g class="tag">
<circle cx="1239.3" cy="1006" r="7.5"/><text x="1239.3" y="1010.3" font-size="12">6</text>
<circle cx="1270" cy="998.3" r="7.5"/><text x="1270" y="1002.6" font-size="11">10</text>
<circle cx="1239.3" cy="1026.7" r="7.5"/><text x="1239.3" y="1031" font-size="12">8</text>
<circle cx="1239.3" cy="1051.7" r="7.5"/><text x="1239.3" y="1056" font-size="12">7</text>
<circle cx="1239.3" cy="1070.7" r="7.5"/><text x="1239.3" y="1075" font-size="12">9</text>
<circle cx="1350.7" cy="1069.3" r="7.5"/><text x="1350.7" y="1073.6" font-size="12">5</text>
<circle cx="1291.7" cy="1100" r="7.5"/><text x="1291.7" y="1104.3" font-size="12">4</text>
<circle cx="1334" cy="1098.3" r="7.5"/><text x="1334" y="1102.6" font-size="11">11</text>
</g>
<g class="s7"><text x="1216" y="1009">øR6</text><text x="1281" y="1001">2øR10</text><text x="1212" y="1029">3øR6</text><text x="1216" y="1054">øR8</text><text x="1212" y="1073">øR16</text><text x="1361" y="1072">5øR8</text><text x="1345" y="1101">1øR8</text></g>
</g>

<text x="1468" y="947" font-size="21" textLength="187" lengthAdjust="spacingAndGlyphs">VÝPIS  VÝZTUŽE  PRO  1ks</text>
<g class="l">
<rect x="1465" y="950.7" width="245.7" height="228.6"/>
<line x1="1487.3" y1="950.7" x2="1487.3" y2="1131.7"/><line x1="1513.3" y1="950.7" x2="1513.3" y2="1131.7"/><line x1="1541.3" y1="950.7" x2="1541.3" y2="1131.7"/><line x1="1566" y1="950.7" x2="1566" y2="1179.3"/>
<line x1="1596" y1="975" x2="1596" y2="1168.3"/><line x1="1624.7" y1="975" x2="1624.7" y2="1168.3"/><line x1="1653.3" y1="975" x2="1653.3" y2="1168.3"/><line x1="1684" y1="975" x2="1684" y2="1168.3"/>
<line x1="1566" y1="960" x2="1710.7" y2="960"/><line x1="1566" y1="975" x2="1710.7" y2="975"/>
<line x1="1465" y1="989.3" x2="1710.7" y2="989.3"/><line x1="1465" y1="1002.2" x2="1710.7" y2="1002.2"/><line x1="1465" y1="1015.2" x2="1710.7" y2="1015.2"/><line x1="1465" y1="1028.1" x2="1710.7" y2="1028.1"/><line x1="1465" y1="1041.1" x2="1710.7" y2="1041.1"/><line x1="1465" y1="1054" x2="1710.7" y2="1054"/><line x1="1465" y1="1067" x2="1710.7" y2="1067"/><line x1="1465" y1="1079.9" x2="1710.7" y2="1079.9"/><line x1="1465" y1="1092.8" x2="1710.7" y2="1092.8"/><line x1="1465" y1="1105.8" x2="1710.7" y2="1105.8"/><line x1="1465" y1="1118.7" x2="1710.7" y2="1118.7"/><line x1="1465" y1="1131.7" x2="1710.7" y2="1131.7"/><line x1="1465" y1="1144" x2="1710.7" y2="1144"/><line x1="1465" y1="1156" x2="1710.7" y2="1156"/><line x1="1465" y1="1168.3" x2="1710.7" y2="1168.3"/>
</g>
<g font-size="9.5" text-anchor="middle">
<text x="1476" y="961">Č.</text><text x="1476" y="984">pol.</text><text x="1500" y="964">D</text><text x="1500" y="980">[mm]</text><text x="1527" y="964">Délka</text><text x="1527" y="980">[m]</text><text x="1554" y="964" textLength="22" lengthAdjust="spacingAndGlyphs">Počet</text><text x="1554" y="980">ks.</text>
<text x="1638" y="958.5">Délka</text><text x="1638" y="972">10  505</text>
<text x="1581" y="986">R6</text><text x="1610" y="986">R8</text><text x="1639" y="986">R10</text><text x="1668" y="986">R14</text><text x="1697" y="986">R16</text>
</g>
<g font-size="10" text-anchor="middle">
<text x="1476" y="1000">1</text><text x="1500" y="1000">R10</text><text x="1527" y="1000">1.805</text><text x="1554" y="1000">2</text><text x="1639" y="1000">3.610</text>
<text x="1476" y="1013">2</text><text x="1500" y="1013">R6</text><text x="1527" y="1013">1.590</text><text x="1554" y="1013">49</text><text x="1581" y="1013">77.910</text>
<text x="1476" y="1026">3</text><text x="1500" y="1026">R14</text><text x="1527" y="1026">8.025</text><text x="1554" y="1026">4</text><text x="1668" y="1026">32.100</text>
<text x="1476" y="1039">4</text><text x="1500" y="1039">R8</text><text x="1527" y="1039">1.150</text><text x="1554" y="1039">8</text><text x="1610" y="1039">9.200</text>
<text x="1476" y="1052">5</text><text x="1500" y="1052">R8</text><text x="1527" y="1052">1.450</text><text x="1554" y="1052">5</text><text x="1610" y="1052">7.250</text>
<text x="1476" y="1065">6</text><text x="1500" y="1065">R6</text><text x="1527" y="1065">1.350</text><text x="1554" y="1065">3</text><text x="1581" y="1065">4.050</text>
<text x="1476" y="1078">7</text><text x="1500" y="1078">R8</text><text x="1527" y="1078">1.220</text><text x="1554" y="1078">2</text><text x="1610" y="1078">2.440</text>
<text x="1476" y="1091">8</text><text x="1500" y="1091">R6</text><text x="1527" y="1091">1.355</text><text x="1554" y="1091">3</text><text x="1581" y="1091">4.065</text>
<text x="1476" y="1104">9</text><text x="1500" y="1104">R16</text><text x="1527" y="1104">1.750</text><text x="1554" y="1104">2</text><text x="1697" y="1104">3.500</text>
<text x="1476" y="1117">10</text><text x="1500" y="1117">R10</text><text x="1527" y="1117">1.105</text><text x="1554" y="1117">2</text><text x="1639" y="1117">2.210</text>
<text x="1476" y="1130">11</text><text x="1500" y="1130">R8</text><text x="1527" y="1130">0.250</text><text x="1554" y="1130">2</text><text x="1610" y="1130">0.500</text>
<text x="1581" y="1142">86.03</text><text x="1610" y="1142">19.39</text><text x="1639" y="1142">5.82</text><text x="1668" y="1142">32.10</text><text x="1697" y="1142">3.50</text>
<text x="1581" y="1154">0.222</text><text x="1610" y="1154">0.395</text><text x="1639" y="1154">0.617</text><text x="1668" y="1154">1.208</text><text x="1697" y="1154">1.578</text>
<text x="1581" y="1166">19.10</text><text x="1610" y="1166">7.66</text><text x="1639" y="1166">3.59</text><text x="1668" y="1166">38.78</text><text x="1697" y="1166">5.52</text>
<text x="1638" y="1177">74.6</text>
</g>
<g font-size="10"><text x="1467" y="1142">Celková  délka</text><text x="1467" y="1154">Specifická  hmotnost</text><text x="1467" y="1166">Hmotnost  [kg]</text><text x="1467" y="1177">Hmotnost  celkem</text></g>

<g class="l">
<rect x="1857" y="32.7" width="467" height="164" style="stroke-width:1.5"/>
<line x1="1857" y1="55" x2="2324" y2="55"/><line x1="1857" y1="72.3" x2="2324" y2="72.3"/><line x1="1857" y1="89.3" x2="2324" y2="89.3"/><line x1="1857" y1="106" x2="2324" y2="106"/><line x1="1857" y1="123.3" x2="2324" y2="123.3" style="stroke-width:1.5"/><line x1="1857" y1="146" x2="2324" y2="146"/><line x1="1857" y1="163.3" x2="2324" y2="163.3"/><line x1="1857" y1="180" x2="2324" y2="180"/>
<line x1="2249" y1="55" x2="2249" y2="106"/><line x1="2249" y1="146" x2="2249" y2="196.7"/>
</g>
<text x="1862" y="50" font-size="15">SLOUP  S3</text>
<g font-size="9"><text x="1862" y="67">OBJEM 1KS</text><text x="1862" y="84">HMOTNOST 1KS</text><text x="1862" y="101">VYROBIT</text>
<text x="1862" y="159">DÉLKOVÁ  TOLERANCE  CELKOVÁ</text><text x="1862" y="176">DÉLKOVÁ  TOLERANCE  DÍLČÍ,  OSAZENÍ  KOVÁNÍ</text><text x="1862" y="193">PŘÍČNÁ  TOLERANCE</text></g>
<g font-size="9.5" text-anchor="end"><text x="2244" y="67">(m3)</text><text x="2244" y="84">(kg)</text><text x="2244" y="101">(ks)</text></g>
<g font-size="9.5" text-anchor="middle"><text x="2285" y="67">1,285</text><text x="2285" y="84">3188</text><text x="2275" y="101">1</text><text x="2286" y="159">±10  mm</text><text x="2286" y="176">±5  mm</text><text x="2286" y="193">+0  mm  −5  mm</text></g>
<text x="1862" y="142" font-size="15" textLength="178" lengthAdjust="spacingAndGlyphs">STANOVENÍ  VÝROBNÍCH  TOLERANCÍ</text>

<g class="l">
<rect x="1857" y="225" width="467" height="271" style="stroke-width:1.5"/>
<line x1="1857" y1="248.3" x2="2324" y2="248.3"/><line x1="1857" y1="266.7" x2="2324" y2="266.7"/><line x1="1857" y1="282.7" x2="2324" y2="282.7"/><line x1="1857" y1="299.3" x2="2324" y2="299.3" style="stroke-width:1.5"/><line x1="1857" y1="322.7" x2="2324" y2="322.7"/><line x1="1857" y1="339.3" x2="2324" y2="339.3"/><line x1="1857" y1="356" x2="2324" y2="356"/><line x1="1857" y1="372.7" x2="2324" y2="372.7"/><line x1="1857" y1="376.7" x2="2324" y2="376.7"/><line x1="1857" y1="396" x2="2324" y2="396"/><line x1="1857" y1="412.7" x2="2324" y2="412.7"/><line x1="1857" y1="429.3" x2="2324" y2="429.3"/><line x1="1857" y1="446.7" x2="2324" y2="446.7"/><line x1="1857" y1="463.3" x2="2324" y2="463.3"/><line x1="1857" y1="480" x2="2324" y2="480"/>
<line x1="1905" y1="266.7" x2="1905" y2="282.7"/><line x1="2255" y1="248.3" x2="2255" y2="282.7"/>
<line x1="1905" y1="322.7" x2="1905" y2="496"/><line x1="2170" y1="322.7" x2="2170" y2="356"/><line x1="2203" y1="322.7" x2="2203" y2="356"/><line x1="2255" y1="322.7" x2="2255" y2="496"/>
<line x1="2110" y1="372.7" x2="2110" y2="496"/><line x1="2145" y1="372.7" x2="2145" y2="496"/><line x1="2195" y1="372.7" x2="2195" y2="496"/>
</g>
<text x="1862" y="244" font-size="15" textLength="230" lengthAdjust="spacingAndGlyphs">TABULKA  ZABUDOVANÝCH  ÚCHYTŮ  PRO  1KS</text>
<text x="1862" y="318" font-size="15" textLength="227" lengthAdjust="spacingAndGlyphs">TABULKA  ZABUDOVANÉHO  KOVÁNÍ  PRO  1KS</text>
<g font-size="9">
<text x="1860" y="261">OZNAČENÍ:</text><text x="1913" y="279">DEHA  S  KULOVOU  HLAVOU  6000−5,0−0240</text>
<text x="1860" y="335">OZNAČENÍ:</text><text x="1913" y="351">KOVOVÁ  TRUBKA  SANDRIK  ø  65mm</text><text x="1860" y="368">CELKEM:</text>
<text x="1860" y="390">OZNAČENÍ:</text>
<text x="1913" y="408">KOVÁNÍ  P8  −  200x150</text><text x="1913" y="425">TRUBKA  TR76/3  DL.  0,40m</text><text x="1913" y="442">KOVÁNÍ  P6  −  200x180</text><text x="1913" y="459">KOVÁNÍ  P8  −  250x200</text><text x="1913" y="476">KOVÁNÍ  P8  −  200x220</text><text x="1860" y="493">CELKEM:</text>
<text x="2258" y="390">Č.VÝKR.</text>
</g>
<g font-size="9.5" text-anchor="middle">
<text x="2285" y="261">KS</text><text x="2285" y="279">2</text>
<text x="2185" y="335">KS</text><text x="2229" y="335">DL.(m)/1KS</text><text x="2280" y="335">DL.(m)</text>
<text x="1878" y="351">S1</text><text x="2185" y="351">4</text><text x="2226" y="351">0,200</text><text x="2273" y="351">0,80</text><text x="2273" y="368">0,80</text>
<text x="2125" y="390">KS</text><text x="2170" y="390">KG/1KS</text><text x="2225" y="390">KG/1SLOUP</text>
<text x="1879" y="408">Z1</text><text x="2126" y="408">3</text><text x="2169" y="408">2,18</text><text x="2222" y="408">6,54</text><text x="2289" y="408">4003−Z1</text>
<text x="1879" y="425">Z2</text><text x="2126" y="425">1</text><text x="2169" y="425">2,29</text><text x="2222" y="425">2,29</text>
<text x="1879" y="442">Z3</text><text x="2126" y="442">7</text><text x="2169" y="442">1,98</text><text x="2222" y="442">13,86</text><text x="2289" y="442">4003−Z3</text>
<text x="1879" y="459">Z10</text><text x="2126" y="459">1</text><text x="2169" y="459">3,69</text><text x="2222" y="459">3,69</text><text x="2289" y="459">4003−Z10</text>
<text x="1879" y="476">Z15</text><text x="2126" y="476">1</text><text x="2169" y="476">3,06</text><text x="2222" y="476">3,06</text><text x="2289" y="476">4003−Z15</text>
<text x="2222" y="493">29,44</text>
</g>
<ellipse class="l" cx="1878" cy="348" rx="13" ry="7"/>
<ellipse class="l" cx="1879" cy="473" rx="13" ry="7"/>
<polygon class="l" points="1823,354 1840,326 1857,354"/><polygon class="l" points="1828,351 1840,331 1852,351"/><text x="1840" y="350" font-size="12" text-anchor="middle">2</text>
<polygon class="l" points="1823,480 1840,452 1857,480"/><polygon class="l" points="1828,477 1840,457 1852,477"/><text x="1840" y="476" font-size="12" text-anchor="middle">2</text>
<line class="l" x1="2343" y1="480" x2="2360" y2="480"/>

<text x="1865" y="518" font-size="17" textLength="181" lengthAdjust="spacingAndGlyphs">MANIPULAČNÍ  PEVNOST  20MPa</text>
<text x="1864" y="611" font-size="24" textLength="80" lengthAdjust="spacingAndGlyphs">POZNÁMKY:</text>
<g font-size="10">
<text x="1865" y="630" textLength="149" lengthAdjust="spacingAndGlyphs">1)  SOUČINITEL  ÚČELU  GAMA(n)  =  0,95</text>
<text x="1865" y="645" textLength="271" lengthAdjust="spacingAndGlyphs">2)  HRANY  PRVKU  ZKOSIT  VLOŽENÍM  PLASTOVÝCH  LIŠT  O  HRANĚ  10mm</text>
<text x="1865" y="658" textLength="215" lengthAdjust="spacingAndGlyphs">3)  OHÝBANÉ  VLOŽKY  JSOU  POPSÁNY  VNĚJŠÍMI  ROZMĚRY</text>
<text x="1865" y="674" textLength="227" lengthAdjust="spacingAndGlyphs">4)  KOVÁNÍ  Z1  OSADIT  DO  VYBRÁNÍ  VE  SLOUPU  TL.  15  mm</text></g>
<path class="l" d="M1865,729 h18 M1868,729 l6,-5 l6,5"/><text x="1893" y="732" font-size="9">PODLOŽKA</text>
<text x="1865" y="805" font-size="18" textLength="204" lengthAdjust="spacingAndGlyphs">NAVRŽENO  DLE  ČSN  73  1201/86</text>
<text x="1865" y="828" font-size="25" textLength="181" lengthAdjust="spacingAndGlyphs">BETON  C  45/55  −  XC1</text>
<text x="2072" y="826" font-size="14" textLength="189" lengthAdjust="spacingAndGlyphs">(MAXIMÁLNÍ  VODNÍ  SOUČINITEL  0,45)</text>
<text x="1865" y="851" font-size="25" textLength="135" lengthAdjust="spacingAndGlyphs">OCEL  10  505  (R)</text>
<g font-size="14.5"><text x="1865" y="870" textLength="455" lengthAdjust="spacingAndGlyphs">VNITŘNÍ  PRŮMĚR  ZAKŘIVENÍ  VLOŽEK  (PRŮMĚR  KOLÍKU)  DLE  ČSN  73  1201−86  TJ  5D</text><text x="1865" y="885" textLength="281" lengthAdjust="spacingAndGlyphs">VÝZTUŽ  SVAŘOVAT  POUZE  VE  VYZNAČENÝCH  MÍSTECH</text><text x="1866" y="902" textLength="122" lengthAdjust="spacingAndGlyphs">KRYTÍ  VÝZTUŽE  20  mm</text></g>

<g class="l">
<rect x="1855.7" y="916.7" width="494.3" height="80" style="stroke-width:1.4"/>
<line x1="1855.7" y1="936.7" x2="2350" y2="936.7"/><line x1="1855.7" y1="956.7" x2="2350" y2="956.7"/><line x1="1855.7" y1="976.7" x2="2350" y2="976.7"/>
<line x1="1911" y1="916.7" x2="1911" y2="996.7"/><line x1="1965.7" y1="916.7" x2="1965.7" y2="996.7"/><line x1="2295" y1="916.7" x2="2295" y2="996.7"/>
</g>
<g font-size="8"><text x="1866" y="953">2</text><text x="1913" y="953">29.8.  2007</text><text x="1973" y="953">PŘIDÁNA  SANDRIK  TRUBKA  S1  −  1x,  REVIZE  Č.1  ZRUŠENA,  NOVÉ  KOVÁNÍ  Z15</text>
<text x="1866" y="973">1</text><text x="1913" y="973">27.8.  2007</text><text x="1973" y="973">PŘIDÁNO  KOVÁNÍ  Z3  −  1x</text>
<text x="1866" y="993">Č.  REVIZE</text><text x="1918" y="993">DATUM</text><text x="1973" y="993">POPIS  OBSAHU  REVIZE</text><text x="2302" y="993">PODPIS</text></g>
<g font-size="7"><text x="1867" y="1018" textLength="320" lengthAdjust="spacingAndGlyphs">Tento dokument je duševním vlastnictvím společnosti JAPE−projekt Brno. Jeho využití je dáno smluvním</text><text x="1867" y="1030" textLength="318" lengthAdjust="spacingAndGlyphs">vztahem pouze pro tuto konkrétní zakázku. Rozmnožování ani předávání třetím osobám není dovoleno.</text></g>

<g class="l">
<rect x="1856.7" y="1037.3" width="494" height="270" style="stroke-width:1.5"/>
<line x1="2186.7" y1="1037.3" x2="2186.7" y2="1307.3"/>
<line x1="2021.7" y1="1037.3" x2="2021.7" y2="1122.7"/>
<line x1="1856.7" y1="1080.7" x2="2186.7" y2="1080.7"/>
<line x1="1856.7" y1="1122.7" x2="2350.7" y2="1122.7"/>
<line x1="1856.7" y1="1150.7" x2="2186.7" y2="1150.7"/>
<line x1="1856.7" y1="1179.3" x2="2186.7" y2="1179.3"/>
<line x1="1856.7" y1="1265" x2="2350.7" y2="1265"/>
<line x1="2186.7" y1="1137.3" x2="2350.7" y2="1137.3"/><line x1="2186.7" y1="1151.7" x2="2350.7" y2="1151.7"/><line x1="2186.7" y1="1165.7" x2="2350.7" y2="1165.7"/><line x1="2186.7" y1="1180" x2="2350.7" y2="1180"/>
<line x1="2241.7" y1="1122.7" x2="2241.7" y2="1180"/><line x1="2296" y1="1122.7" x2="2296" y2="1180"/>
<line x1="2186.7" y1="1194" x2="2350.7" y2="1194"/><line x1="2186.7" y1="1208.3" x2="2350.7" y2="1208.3"/><line x1="2186.7" y1="1222.3" x2="2350.7" y2="1222.3"/><line x1="2186.7" y1="1236.7" x2="2350.7" y2="1236.7"/>
<line x1="2269" y1="1180" x2="2269" y2="1236.7"/>
<rect x="2186.7" y="1265" width="164" height="42.3" style="stroke-width:2.5"/>
<line x1="2269" y1="1265" x2="2269" y2="1307.3"/>
</g>
<g font-size="9.5">
<text x="1868" y="1054">ZODP.  PROJ.  STAT.  ČÁSTI</text><text x="1868" y="1072">ING.  PERLA</text>
<text x="2032.7" y="1054">VYPRACOVAL</text><text x="2032.7" y="1072">SADÍLEK</text>
<text x="1868" y="1097">SPOLUŘEŠITEL  STAT.  ČÁSTI</text><text x="2032.7" y="1097">KONTROLOVAL</text><text x="2032.7" y="1115">ING.  PERLA</text>
<text x="1868" y="1136">OBJEDNATEL:</text><text x="1930" y="1141">PREZIPP  CHRUDIM</text>
<text x="1868" y="1164">INVESTOR:</text><text x="1930" y="1169">MARKET  INVEST  CZ</text>
<text x="1868" y="1193">NÁZEV  AKCE</text>
<text x="2200" y="1191">FORMÁT</text><text x="2200" y="1205">DATUM</text><text x="2200" y="1219">STUPEŇ</text><text x="2200" y="1233">ZAK.  ČÍSLO</text>
<text x="2194" y="1279" font-weight="bold">MĚŘÍTKO</text>
</g>
<g font-size="10" text-anchor="middle">
<text x="2213" y="1134">ZMĚNA</text><text x="2268" y="1134">DATUM</text><text x="2323" y="1134">SCHVÁLIL</text>
<text x="2214" y="1148">1</text><text x="2214" y="1162">2</text><text x="2214" y="1176.5">3</text>
<text x="2310" y="1191">8  A4</text><text x="2310" y="1205">08/2007</text><text x="2310" y="1219">VD</text><text x="2310" y="1233">S−646−07</text>
<text x="2268" y="1255" font-size="11">STATIKA</text>
<text x="2305" y="1279">ČÍSLO  VÝKRESU</text>
<text x="2228" y="1298" font-size="12">1:25</text>
<text x="2310" y="1300" font-size="21">4006−2</text>
<text x="2268" y="1105" font-size="11" textLength="122" lengthAdjust="spacingAndGlyphs">TŘ.  GEN.  PÍKY  3,  613  00  BRNO</text>
<text x="2268" y="1118" font-size="11">TEL.  548  220  260</text>
</g>
<g font-size="18"><text x="1868" y="1219" textLength="115" lengthAdjust="spacingAndGlyphs">PRODEJNA  POTRAVIN</text><text x="1868" y="1237" textLength="188" lengthAdjust="spacingAndGlyphs">ČESKÁ  LÍPA,  BARDĚJOVSKÁ  ULICE</text><text x="1868" y="1256" textLength="83" lengthAdjust="spacingAndGlyphs">TĚŽKÁ  MONTÁŽ</text></g>
<text x="1868" y="1291" font-size="11">TVAR  A  VÝZTUŽ  SLOUPU    S3</text>
<polygon points="2210,1090 2258,1047 2275,1047 2240,1090" fill="#111"/>
<polygon points="2238,1090 2280,1047 2296,1047 2296,1090" fill="#222"/>
<polygon points="2298,1048 2328,1048 2328,1056 2308,1056 2308,1064 2325,1064 2325,1072 2308,1072 2308,1082 2328,1082 2328,1090 2298,1090" fill="#111"/>
<rect x="2247" y="1083" width="56" height="8" fill="#fff"/>
<text x="2275" y="1090.5" font-size="8" font-weight="bold" text-anchor="middle">PROJEKT</text>

<line x1="0" y1="1321" x2="2382" y2="1321" stroke="#999" stroke-width="3"/>
<g class="th"><line x1="595" y1="1305" x2="595" y2="1320"/><line x1="1191" y1="1305" x2="1191" y2="1320"/><line x1="1787" y1="1305" x2="1787" y2="1320"/></g>
</svg>
</body></html>
